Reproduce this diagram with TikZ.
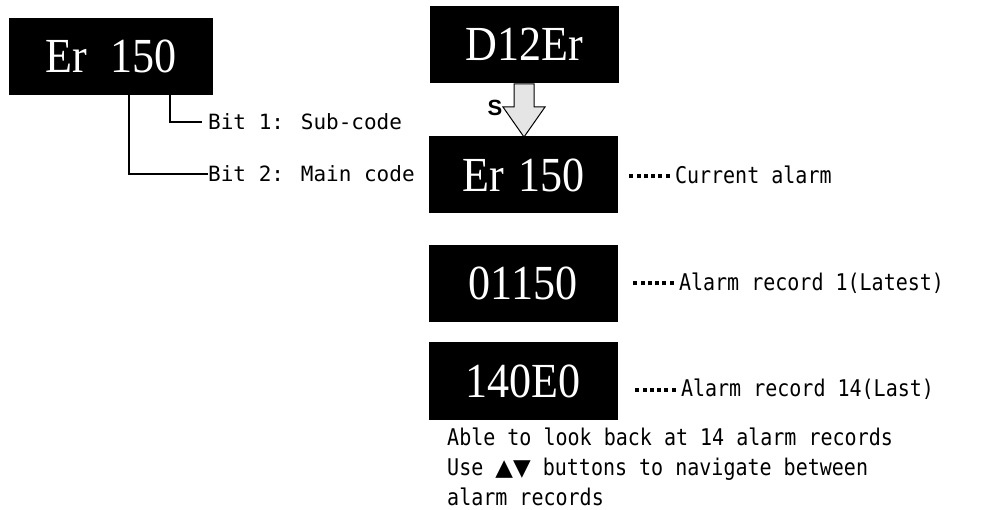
\documentclass[tikz,border=0pt]{standalone}
\usepackage{fontspec}
\setmainfont{Liberation Serif}
\newfontfamily\boxfont[FakeStretch=0.9]{Liberation Serif}
\newfontfamily\labfont{DejaVu Sans Mono}
\newfontfamily\rlabfont[FakeStretch=0.87]{DejaVu Sans Mono}
\newfontfamily\dotfont{DejaVu Sans}
\newfontfamily\sfont{Liberation Sans}
\newcommand{\mydots}{\foreach\i in {1,...,6}{\rule[5pt]{4pt}{4pt}\hspace{3.3pt}}\hspace{2pt}}
\begin{document}
\begin{tikzpicture}[x=1pt,y=-1pt,
  dispbox/.style={fill=black, text=white, inner sep=0pt, minimum width=189pt, minimum height=77pt,
    font=\boxfont\fontsize{49}{49}\selectfont},
  lbl/.style={anchor=west, inner sep=0pt, font=\labfont\fontsize{21}{21}\selectfont},
  rlbl/.style={anchor=base west, inner sep=0pt, font=\rlabfont\fontsize{23}{23}\selectfont},
  conn/.style={draw=black, line width=1.2pt}]
\useasboundingbox (0,0) rectangle (985,510);
% left
\node[dispbox, minimum width=204pt] (code) at (111,56.5) {Er\hspace{24pt}150};
\node[lbl] (bit1) at (208,122) {Bit 1: Sub-code};
\node[lbl] (bit2) at (208,174) {Bit 2: Main code};
\draw[conn] ([xshift=59pt]code.south) |- ([xshift=-6pt]bit1.west);
\draw[conn] ([xshift=18pt]code.south) |- (bit2.west);
% right column
\node[dispbox] (d12) at (524,44.5) {D12Er};
\node[dispbox] (cur) at (523.5,175) {Er\hspace{15pt}150};
\node[dispbox] (rec1) at (523,283.5) {01150};
\node[dispbox] (rec14) at (523,381) {140E0};
% block arrow
\draw[line width=1pt, fill=black!10]
  (514,84) -- (534,84) -- (534,107) -- (545,107) -- (524,137) -- (503,107) -- (514,107) -- cycle;
\node[inner sep=0pt, font=\sfont\bfseries\fontsize{22}{22}\selectfont] (s) at (495,108) {S};
% labels
\node[rlbl] (lcur) at (629,183.5) {\mydots Current alarm};
\node[rlbl] (lrec1) at (633,290.5) {\mydots Alarm record 1(Latest)};
\node[rlbl] (lrec14) at (635,396.5) {\mydots Alarm record 14(Last)};
\node[rlbl] (note1) at (447,445) {Able to look back at 14 alarm records};
\node[rlbl] (note2) at (447,475.5) {Use {\dotfont ▲▼} buttons to navigate between};
\node[rlbl] (note3) at (447,505) {alarm records};
\end{tikzpicture}
\end{document}
